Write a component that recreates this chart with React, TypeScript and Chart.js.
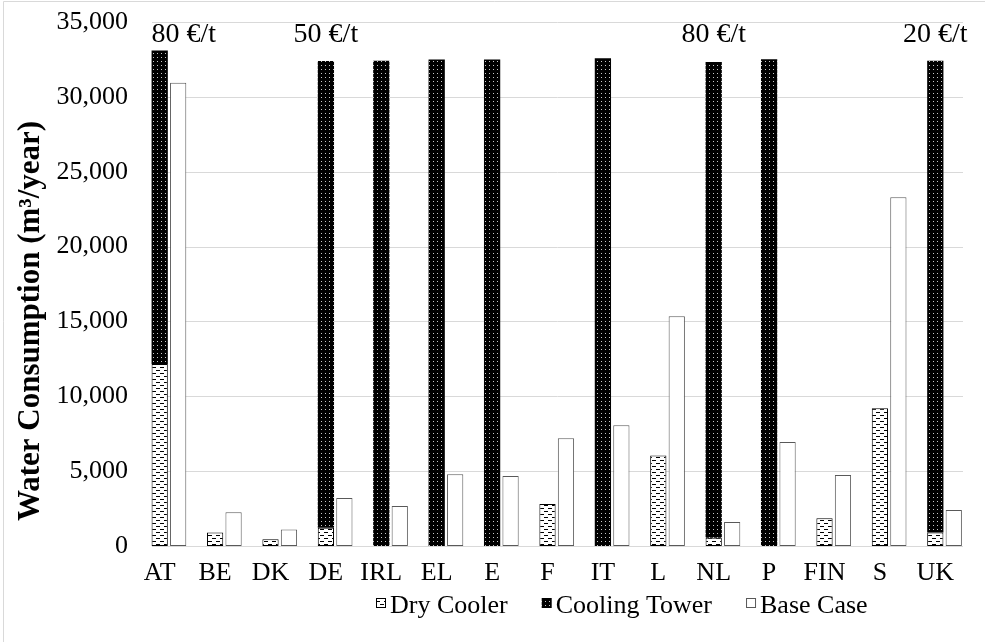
import React, { useEffect, useRef } from 'react';
import { Chart, registerables } from 'chart.js';

Chart.register(...registerables);

const CATEGORIES = ['AT', 'BE', 'DK', 'DE', 'IRL', 'EL', 'E', 'F', 'IT', 'L', 'NL', 'P', 'FIN', 'S', 'UK'];
const DRY_COOLER = [12150, 900, 450, 1225, 0, 0, 0, 2800, 0, 6050, 550, 0, 1850, 9200, 900];
const COOLING_TOWER = [20950, 0, 0, 31175, 32420, 32500, 32500, 0, 32580, 0, 31780, 32510, 0, 0, 31520];
const BASE_CASE = [30950, 2250, 1100, 3200, 2670, 4800, 4680, 7200, 8060, 15350, 1600, 6950, 4750, 23300, 2400];
const PRICE_LABELS = ['80 €/t', '', '', '50 €/t', '', '', '', '', '', '', '80 €/t', '', '', '', '20 €/t'];
const SERIES_NAMES = ['Dry Cooler', 'Cooling Tower', 'Base Case'];
const Y_MIN = 0;
const Y_MAX = 35000;
const Y_STEP = 5000;
const Y_TITLE = 'Water Consumption (m³/year)';

const FONT = '"Liberation Serif", "Times New Roman", serif';
const GRID = '#d9d9d9';

function makeDryPattern(ctx: CanvasRenderingContext2D) {
  const c = document.createElement('canvas');
  c.width = 8;
  c.height = 6;
  const g = c.getContext('2d')!;
  g.fillStyle = '#ffffff';
  g.fillRect(0, 0, 8, 6);
  g.fillStyle = '#000000';
  g.fillRect(0, 1, 4, 1);
  g.fillRect(4, 4, 4, 1);
  return ctx.createPattern(c, 'repeat')!;
}

function makeTowerPattern(ctx: CanvasRenderingContext2D) {
  const c = document.createElement('canvas');
  c.width = 4;
  c.height = 4;
  const g = c.getContext('2d')!;
  g.fillStyle = '#000000';
  g.fillRect(0, 0, 4, 4);
  g.fillStyle = '#c8c8c8';
  g.fillRect(1, 1, 1, 1);
  return ctx.createPattern(c, 'repeat')!;
}

const framePlugin = {
  id: 'frame',
  beforeDraw(chart: any) {
    const { ctx, width, height } = chart;
    ctx.save();
    ctx.fillStyle = '#ffffff';
    ctx.fillRect(0, 0, width, height);
    ctx.strokeStyle = GRID;
    ctx.lineWidth = 1;
    ctx.beginPath();
    ctx.moveTo(3.5, height);
    ctx.lineTo(3.5, 1.5);
    ctx.lineTo(width, 1.5);
    ctx.stroke();
    ctx.restore();
  },
};

const gridPlugin = {
  id: 'excelGrid',
  beforeDatasetsDraw(chart: any) {
    const { ctx, chartArea, scales } = chart;
    const y = scales.y;
    const first = chart.getDatasetMeta(1).data[0];
    const left = Math.round(first.x - first.width / 2);
    ctx.save();
    ctx.strokeStyle = GRID;
    ctx.lineWidth = 1;
    y.ticks.forEach((t: any) => {
      const py = Math.round(y.getPixelForValue(t.value)) + 0.5;
      ctx.beginPath();
      ctx.moveTo(left, py);
      ctx.lineTo(chartArea.right, py);
      ctx.stroke();
    });
    ctx.restore();
  },
};

const annotationPlugin = {
  id: 'priceLabels',
  afterDatasetsDraw(chart: any) {
    const { ctx, scales } = chart;
    const meta = chart.getDatasetMeta(2);
    const first = chart.getDatasetMeta(1).data[0];
    const minLeft = first.x - first.width / 2;
    const topY = scales.y.getPixelForValue(Y_MAX);
    ctx.save();
    ctx.font = `28px ${FONT}`;
    ctx.fillStyle = '#000';
    ctx.textBaseline = 'alphabetic';
    ctx.textAlign = 'left';
    PRICE_LABELS.forEach((txt, i) => {
      if (!txt) return;
      const w = ctx.measureText(txt).width;
      const cx = meta.data[i].x;
      const left = Math.max(minLeft, cx - w / 2);
      ctx.fillText(txt, left, topY + 20);
    });
    ctx.restore();
  },
};

const titlePlugin = {
  id: 'yTitle',
  afterDraw(chart: any) {
    const { ctx, chartArea } = chart;
    ctx.save();
    ctx.translate(39, chartArea.bottom - 225);
    ctx.rotate(-Math.PI / 2);
    ctx.font = `bold 31px ${FONT}`;
    ctx.fillStyle = '#000';
    ctx.textAlign = 'center';
    ctx.textBaseline = 'alphabetic';
    ctx.fillText(Y_TITLE, 0, 0);
    ctx.restore();
  },
};

const legendPlugin = {
  id: 'excelLegend',
  afterDraw(chart: any) {
    const { ctx } = chart;
    const items = chart.data.datasets.filter((d: any) => d.label);
    const BOX = 10;
    const GAP = 4;
    const SPACING = 34;
    const CENTER_X = 622;
    const BASELINE = 613;
    ctx.save();
    ctx.font = `26px ${FONT}`;
    ctx.textBaseline = 'alphabetic';
    ctx.textAlign = 'left';
    const widths = items.map((d: any) => BOX + GAP + ctx.measureText(d.label).width);
    const total = widths.reduce((a: number, b: number) => a + b, 0) + SPACING * (items.length - 1);
    let x = Math.round(CENTER_X - total / 2);
    items.forEach((d: any, i: number) => {
      const by = BASELINE - 15;
      ctx.fillStyle = d.backgroundColor;
      ctx.fillRect(x, by, BOX, BOX);
      if (d.borderWidth) {
        ctx.strokeStyle = d.borderColor;
        ctx.lineWidth = 1;
        ctx.strokeRect(x + 0.5, by + 0.5, BOX - 1, BOX - 1);
      }
      ctx.fillStyle = '#000';
      ctx.fillText(d.label, x + BOX + GAP, BASELINE);
      x += widths[i] + SPACING;
    });
    ctx.restore();
  },
};

export default function App() {
  const ref = useRef<HTMLCanvasElement>(null);

  useEffect(() => {
    const canvas = ref.current!;
    const ctx = canvas.getContext('2d')!;
    const dryPat = makeDryPattern(ctx);
    const towerPat = makeTowerPattern(ctx);

    const chart = new Chart(canvas, {
      type: 'bar',
      data: {
        labels: CATEGORIES,
        datasets: [
          {
            label: '',
            data: CATEGORIES.map(() => 0),
            stack: 'spacer',
            backgroundColor: 'rgba(0,0,0,0)',
            borderWidth: 0,
          },
          {
            label: SERIES_NAMES[0],
            data: DRY_COOLER,
            stack: 'tech',
            backgroundColor: dryPat as any,
            borderColor: '#000000',
            borderWidth: 1,
            borderSkipped: false,
          },
          {
            label: SERIES_NAMES[1],
            data: COOLING_TOWER,
            stack: 'tech',
            backgroundColor: towerPat as any,
            borderWidth: 0,
          },
          {
            label: SERIES_NAMES[2],
            data: BASE_CASE,
            stack: 'base',
            backgroundColor: '#ffffff',
            borderColor: '#595959',
            borderWidth: 1,
            borderSkipped: false,
          },
        ] as any,
      },
      options: {
        responsive: false,
        animation: false,
        devicePixelRatio: 1,
        datasets: {
          bar: {
            categoryPercentage: 1.0,
            barPercentage: 0.88,
          },
        },
        layout: {
          padding: { left: 0, right: 22, top: 22, bottom: 0 },
        },
        plugins: {
          legend: { display: false },
          tooltip: { enabled: false },
        },
        scales: {
          x: {
            type: 'category',
            stacked: true,
            offset: true,
            grid: { display: false, drawTicks: false },
            border: { display: false },
            ticks: {
              font: { family: FONT, size: 26 },
              color: '#000',
              padding: 12,
              maxRotation: 0,
              autoSkip: false,
            },
            afterFit: (s: any) => {
              s.height = 96;
            },
          },
          y: {
            stacked: true,
            min: Y_MIN,
            max: Y_MAX,
            grid: { display: false, drawTicks: false },
            border: { display: false },
            ticks: {
              stepSize: Y_STEP,
              font: { family: FONT, size: 26 },
              color: '#000',
              padding: 4,
              callback: (v: any) => Number(v).toLocaleString('en-US'),
            },
            afterFit: (s: any) => {
              s.width = 132;
            },
          },
        },
      } as any,
      plugins: [framePlugin, gridPlugin, annotationPlugin, titlePlugin, legendPlugin],
    });

    return () => chart.destroy();
  }, []);

  return (
    <div style={{ position: 'absolute', left: 0, top: 0, width: 985, height: 642 }}>
      <canvas ref={ref} width={985} height={642} style={{ display: 'block', width: 985, height: 642 }} />
    </div>
  );
}
